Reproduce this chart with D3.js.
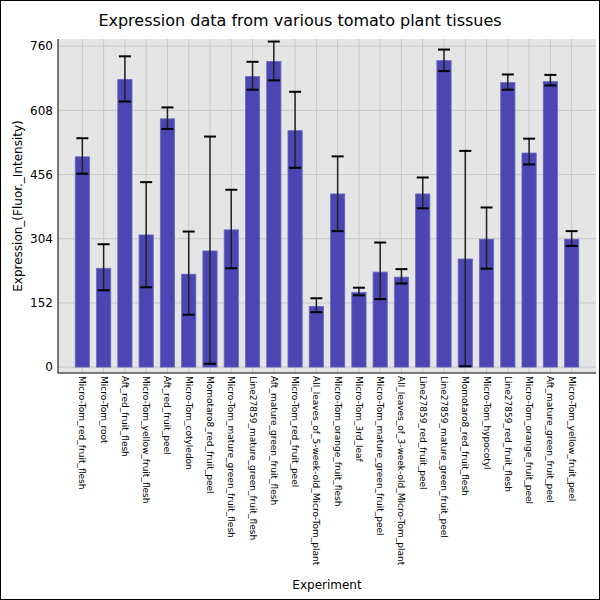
<!DOCTYPE html><html><head><meta charset="utf-8">
<script src="https://cdn.jsdelivr.net/npm/d3@7"></script>
<style>body{margin:0}svg{font-family:"DejaVu Sans",sans-serif}</style></head><body>
<script>
const categories=["Micro-Tom_red_fruit_flesh","Micro-Tom_root","Aft_red_fruit_flesh","Micro-Tom_yellow_fruit_flesh","Aft_red_fruit_peel","Micro-Tom_cotyledon","Momotaro8_red_fruit_peel","Micro-Tom_mature_green_fruit_flesh","Line27859_mature_green_fruit_flesh","Aft_mature_green_fruit_flesh","Micro-Tom_red_fruit_peel","All_leaves_of_5-week-old_Micro-Tom_plant","Micro-Tom_orange_fruit_flesh","Micro-Tom_3rd_leaf","Micro-Tom_mature_green_fruit_peel","All_leaves_of_3-week-old_Micro-Tom_plant","Line27859_red_fruit_peel","Line27859_mature_green_fruit_peel","Momotaro8_red_fruit_flesh","Micro-Tom_hypocotyl","Line27859_red_fruit_flesh","Micro-Tom_orange_fruit_peel","Aft_mature_green_fruit_peel","Micro-Tom_yellow_fruit_peel"];
const values=[498,234,681,313,588,220,275,325,688,724,560,144,410,177,225,213,410,726,256,303,674,507,676,303];
const errHigh=[542,291,736,438,615,321,546,420,723,771,652,163,499,188,295,232,449,752,512,378,693,541,692,322];
const errLow=[458,182,629,189,564,124,8,234,657,679,472,130,322,170,161,198,376,701,2,233,657,480,667,287];
const yTicks=[0,152,304,456,608,760];
const W=600,H=600,m={l:58,r:596,t:39,b:373};
const svg=d3.select("body").append("svg").attr("width",W).attr("height",H);
svg.append("rect").attr("x",0.5).attr("y",0.5).attr("width",W-1).attr("height",H-1).attr("fill","#fff").attr("stroke","#000");
svg.append("rect").attr("x",m.l).attr("y",m.t).attr("width",m.r-m.l).attr("height",m.b-m.t).attr("fill","#e5e5e5");
const x=d3.scaleBand().domain(categories).range([68.2,585.8]).padding(0.33);
const y=d3.scaleLinear().domain([-14,777]).range([m.b,m.t]);
const g=svg.append("g");
yTicks.forEach(t=>g.append("line").attr("x1",m.l).attr("x2",m.r).attr("y1",y(t)).attr("y2",y(t)).attr("stroke","#c8c8c8").attr("stroke-width",1));
categories.forEach(c=>g.append("line").attr("x1",x(c)+x.bandwidth()/2).attr("x2",x(c)+x.bandwidth()/2).attr("y1",m.t).attr("y2",m.b).attr("stroke","#c8c8c8"));
svg.selectAll(".bar").data(values).join("rect").attr("x",(d,i)=>x(categories[i])).attr("width",x.bandwidth())
 .attr("y",d=>y(d)).attr("height",d=>y(0)-y(d)).attr("fill","#4b46b2").attr("stroke","#6d69c4").attr("stroke-width",0.8);
categories.forEach((c,i)=>{const cx=x(c)+x.bandwidth()/2;
 svg.append("line").attr("x1",cx).attr("x2",cx).attr("y1",y(errHigh[i])).attr("y2",y(errLow[i])).attr("stroke","#222").attr("stroke-width",1.5);
 [errHigh[i],errLow[i]].forEach(v=>svg.append("line").attr("x1",cx-6).attr("x2",cx+6).attr("y1",y(v)).attr("y2",y(v)).attr("stroke","#000").attr("stroke-width",2));});
svg.append("line").attr("x1",m.l).attr("x2",m.l).attr("y1",m.t).attr("y2",m.b).attr("stroke","#000");
svg.append("line").attr("x1",m.l).attr("x2",m.r).attr("y1",m.b).attr("y2",m.b).attr("stroke","#000");
yTicks.forEach(t=>svg.append("text").attr("x",m.l-5).attr("y",y(t)).attr("dy","0.35em").attr("text-anchor","end").attr("font-size",12).text(t));
categories.forEach(c=>{const cx=x(c)+x.bandwidth()/2;
 svg.append("text").attr("transform",`translate(${cx-3},${m.b+3}) rotate(90)`).attr("font-size",9).attr("text-anchor","start").text(c);});
svg.append("text").attr("x",300).attr("y",26).attr("text-anchor","middle").attr("font-size",16).text("Expression data from various tomato plant tissues");
svg.append("text").attr("x",327).attr("y",589).attr("text-anchor","middle").attr("font-size",12).text("Experiment");
svg.append("text").attr("transform","translate(22,206) rotate(-90)").attr("text-anchor","middle").attr("font-size",12).text("Expression_(Fluor._Intensity)");
</script></body></html>
